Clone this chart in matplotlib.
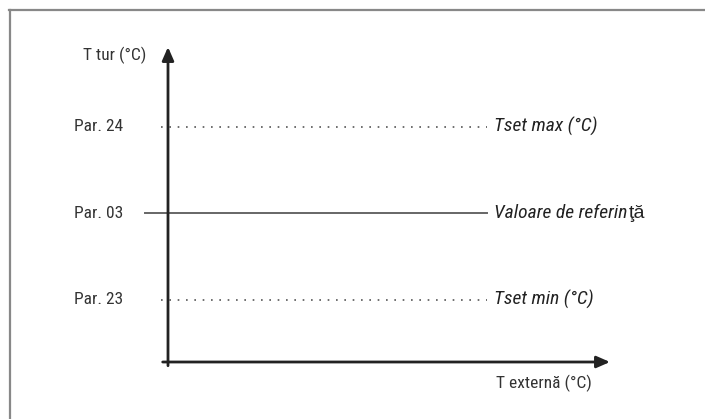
import matplotlib.pyplot as plt
from matplotlib.lines import Line2D

# schematic levels (bottom to top)
levels = [1, 2, 3]
par_labels = ['Par. 23', 'Par. 03', 'Par. 24']
right_labels = ['Tset min (°C)', 'Valoare de referin', 'Tset max (°C)']
line_styles = [':', '-', ':']
y_label = 'T tur (°C)'
x_label = 'T externă (°C)'

plt.rcParams['font.family'] = ['Roboto Condensed', 'DejaVu Sans']
FS = 12.5

W, H = 705, 419
fig = plt.figure(figsize=(W / 100, H / 100), dpi=100)

# frame (top and left edges only visible)
fig.add_artist(Line2D([9 / W, 1], [1 - 10.5 / H, 1 - 10.5 / H], color='#888888', lw=1.6))
fig.add_artist(Line2D([9.5 / W, 9.5 / W], [0, 1 - 10.5 / H], color='#888888', lw=1.6))

x0, y0, x1, y1 = 168, 362, 610, 47
ax = fig.add_axes([x0 / W, 1 - y0 / H, (x1 - x0) / W, (y0 - y1) / H])
ax.set_xlim(0, 1)
ax.set_ylim(0.283, 3.92)
ax.axis('off')

# axes arrows
ax.annotate('', xy=(1, 0.283), xytext=(-0.012, 0.283),
            arrowprops=dict(arrowstyle='-|>,head_length=0.8,head_width=0.35', color='#222222', lw=2,
                            shrinkA=0, shrinkB=0), annotation_clip=False)
ax.annotate('', xy=(0, 3.92), xytext=(0, 0.24),
            arrowprops=dict(arrowstyle='-|>,head_length=0.8,head_width=0.35', color='#222222', lw=2,
                            shrinkA=0, shrinkB=0), annotation_clip=False)

for lev, pl, rl, ls in zip(levels, par_labels, right_labels, line_styles):
    if ls == '-':
        ax.plot([-0.052, 0.722], [lev, lev], color='#666666', lw=1.4, clip_on=False)
    else:
        ax.plot([-0.016, 0.722], [lev, lev], color='#555555', lw=1.2, ls=(0, (1, 4)), clip_on=False)
    ax.text(-0.102, lev, pl, ha='right', va='center', fontsize=FS, color='#333333')
    t = ax.text(0.737, lev, rl, ha='left', va='center', fontsize=14, style='italic', color='#222222')
    if ls == '-':
        ax.annotate('ţă', xy=(1, 0), xycoords=t, xytext=(1.5, 0), textcoords='offset points',
                    ha='left', va='bottom', fontsize=14,
                    family=['Liberation Sans', 'DejaVu Sans'], color='#222222')

ax.text(-0.05, 3.82, y_label, ha='right', va='center', fontsize=FS, color='#333333')
ax.text(0.96, 0.04, x_label, ha='right', va='center', fontsize=FS, color='#333333')

fig.savefig('out.png', dpi=100)
